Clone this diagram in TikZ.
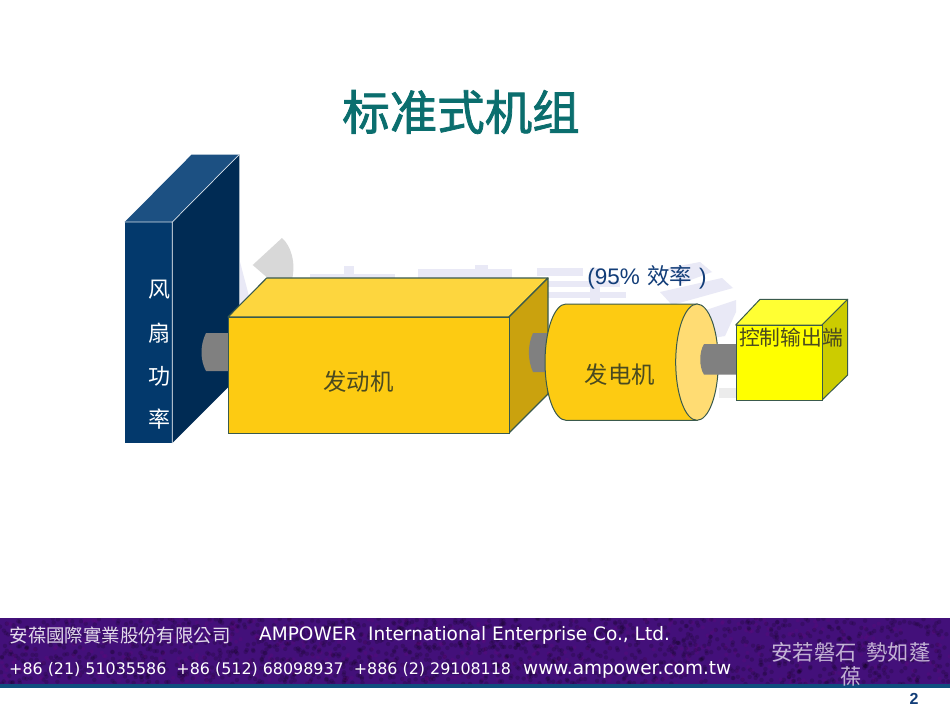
\documentclass[tikz,border=0pt]{standalone}
\usepackage{fontspec}
\setmainfont{DejaVu Sans}
\newfontfamily\cjk{Noto Sans CJK SC}
\newfontfamily\cjkfat[FakeBold=1.6]{Noto Sans CJK SC}
\newfontfamily\cjktc{Noto Sans CJK TC}
\newfontfamily\arialf{Liberation Sans}
\definecolor{titleteal}{HTML}{0B6E6E}
\definecolor{panelfront}{HTML}{03396C}
\definecolor{paneltop}{HTML}{1C5082}
\definecolor{panelside}{HTML}{002B54}
\definecolor{gold}{HTML}{FDCB12}
\definecolor{goldtop}{HTML}{FDD63E}
\definecolor{goldside}{HTML}{CAA20E}
\definecolor{goldend}{HTML}{FFDC73}
\definecolor{edge}{HTML}{3A5A4C}
\definecolor{cubefront}{HTML}{FFFF00}
\definecolor{cubetop}{HTML}{FFFF33}
\definecolor{cubeside}{HTML}{CCCC00}
\definecolor{shaftgray}{HTML}{808080}
\definecolor{band}{HTML}{43107A}
\definecolor{bandline}{HTML}{0F4F7E}
\definecolor{wmblue}{HTML}{E9E9F6}
\definecolor{wmgray}{HTML}{D8D8D8}
\definecolor{darkink}{HTML}{4A4A20}
\definecolor{navy}{HTML}{123D78}
\tikzset{
  x=1pt,y=-1pt,
  facegold/.style={fill=#1,draw=edge,line width=1.1pt,line join=round},
  facecube/.style={fill=#1,draw=edge,line width=1pt,line join=round},
  shaft/.style={fill=shaftgray,draw=none},
  lab/.style={inner sep=0pt,text=darkink,font=\cjk\fontsize{23.4}{24}\selectfont},
  foot/.style={inner sep=0pt,anchor=west,text=white,font=\fontsize{18.5}{20}\selectfont},
  footc/.style={inner sep=0pt,anchor=west,text=white!85!band,font=\cjktc\fontsize{18.4}{20}\selectfont},
}
\begin{document}
\begin{tikzpicture}
\useasboundingbox (0,0) rectangle (950,713);
\fill[white] (0,0) rectangle (950,713);
% faint watermark
\fill[wmgray] (282,238) .. controls (291,246) and (296,262) .. (292,280) -- (270,280) -- (252.7,265) -- cycle;
\fill[wmblue] (240,262) -- (250,300) -- (240,320) -- cycle;
\fill[wmblue] (344,266) rectangle (354,280);
\fill[wmblue] (310,274) rectangle (395,280);
\fill[wmblue] (418,269) rectangle (512,278);
\fill[wmblue] (475,265) rectangle (488,280);
\fill[wmblue] (537,268) rectangle (583,276);
\fill[wmblue] (548,281) rectangle (620,287);
\fill[wmblue] (548,292) rectangle (626,298);
\fill[wmblue] (590,268) rectangle (600,304);
\fill[wmblue] (668,268) -- (700,262) -- (712,272) -- (680,284) -- cycle;
\fill[wmblue] (660,292) -- (722,278) -- (733,288) -- (672,305) -- cycle;
\fill[wmblue] (700,312) -- (736,300) -- (736,312) -- (725,336) -- (700,340) -- cycle;
\fill[wmgray!50] (719,388) rectangle (736,398);
% footer band
\begin{scope}
\clip (0,618) rectangle (950,684);
\fill[band] (0,618) rectangle (950,684);
\pgfmathsetseed{7}
\foreach \i in {1,...,1500}{
  \pgfmathsetmacro{\px}{rnd*950}
  \pgfmathsetmacro{\py}{618+rnd*66}
  \fill[black,opacity=.16] (\px,\py) circle[radius=2.2];
}
\foreach \i in {1,...,500}{
  \pgfmathsetmacro{\px}{rnd*950}
  \pgfmathsetmacro{\py}{618+rnd*66}
  \fill[violet,opacity=.15] (\px,\py) circle[radius=2];
}
\end{scope}
\fill[bandline] (0,684) rectangle (950,687.5);
% title
\node[inner sep=0pt,text=titleteal,font=\cjkfat\fontsize{47.5}{48}\selectfont] (title) at (461,112) {标准式机组};
% fan panel
\fill[panelside] (172.3,222) -- (239.3,154.5) -- (239.3,376) -- (172.3,443) -- cycle;
\fill[paneltop] (124.7,222) -- (191.7,154.5) -- (239.3,154.5) -- (172.3,222) -- cycle;
\fill[panelfront] (124.7,222) rectangle (172.3,443);
\draw[white!85!panelfront,line width=.7pt] (124.7,222) -- (172.3,222) -- (239.3,154.5) (172.3,222) -- (172.3,443);
\foreach \t/\yy in {风/290,扇/333,功/376,率/419}{
  \node[inner sep=0pt,text=white,font=\cjk\fontsize{22}{22}\selectfont] at (159,\yy) {\t};
}
% fan shaft
\fill[shaft] (229,333) -- (206,333) .. controls (200,345) and (200,360) .. (206,371) -- (229,371) -- cycle;
% engine
\draw[facegold=goldtop] (228,317) -- (266.7,278) -- (548,278) -- (509,317) -- cycle;
\draw[facegold=goldside] (509,317) -- (548,278) -- (548,394) -- (509,433) -- cycle;
\node[fill=gold,draw=edge,line width=1.1pt,minimum width=281pt,minimum height=116pt,inner sep=0pt,anchor=north west] (engine) at (228,317) {};
\node[lab] at (358.5,382) {发动机};
% engine-generator shaft
\fill[shaft] (552,333) -- (533,333) .. controls (527.5,345) and (527.5,360) .. (533,372) -- (552,372) -- cycle;
% generator
\draw[fill=gold,draw=edge,line width=1pt] (566,304) -- (697,304) -- (697,420.3) -- (566,420.3) .. controls (554.4,420.3) and (545,394.3) .. (545,362.15) .. controls (545,330) and (554.4,304) .. (566,304) -- cycle;
\draw[fill=goldend,draw=edge,line width=1pt] (697,362.15) ellipse[x radius=21.3,y radius=58.15];
\node[lab] at (620,375) {发电机};
% output shaft
\fill[shaft] (737,344) -- (704,344) .. controls (699,352) and (699,367) .. (704,374.7) -- (737,374.7) -- cycle;
% cube
\draw[facecube=cubetop] (735.7,325) -- (760,299.3) -- (847.7,299.3) -- (822,325) -- cycle;
\draw[facecube=cubeside] (822,325) -- (847.7,299.3) -- (847.7,375) -- (822,400) -- cycle;
\node[fill=cubefront,draw=edge,line width=1pt,minimum width=86.3pt,minimum height=75pt,inner sep=0pt,anchor=north west] (cube) at (735.7,325) {};
\node[inner sep=0pt,text=darkink,font=\cjk\fontsize{20.8}{21}\selectfont] at (791,337.5) {控制输出端};
% efficiency
\node[inner sep=0pt,text=navy,font=\fontsize{22.5}{23}\selectfont] at (647,277) {{\arialf (95\%} {\cjk 效率} {\arialf )}};
% footer text
\node[footc] at (9.5,635) {安葆國際實業股份有限公司};
\node[foot] at (259,635) {AMPOWER\ \ International Enterprise Co., Ltd.};
\node[foot,font=\fontsize{15.9}{20}\selectfont] at (9,670) {+86 (21) 51035586\ \ +86 (512) 68098937\ \ +886 (2) 29108118};
\node[foot] at (523,669.5) {www.ampower.com.tw};
\node[inner sep=0pt,text=white!68!band,font=\cjktc\fontsize{21.3}{22}\selectfont] at (851,652) {安若磐石\ \ 勢如蓬};
\node[inner sep=0pt,text=white!68!band,font=\cjktc\fontsize{21.3}{22}\selectfont] at (851,676) {葆};
\node[inner sep=0pt,text=navy,font=\arialf\bfseries\fontsize{16}{16}\selectfont] at (914,699) {2};
\end{tikzpicture}
\end{document}
